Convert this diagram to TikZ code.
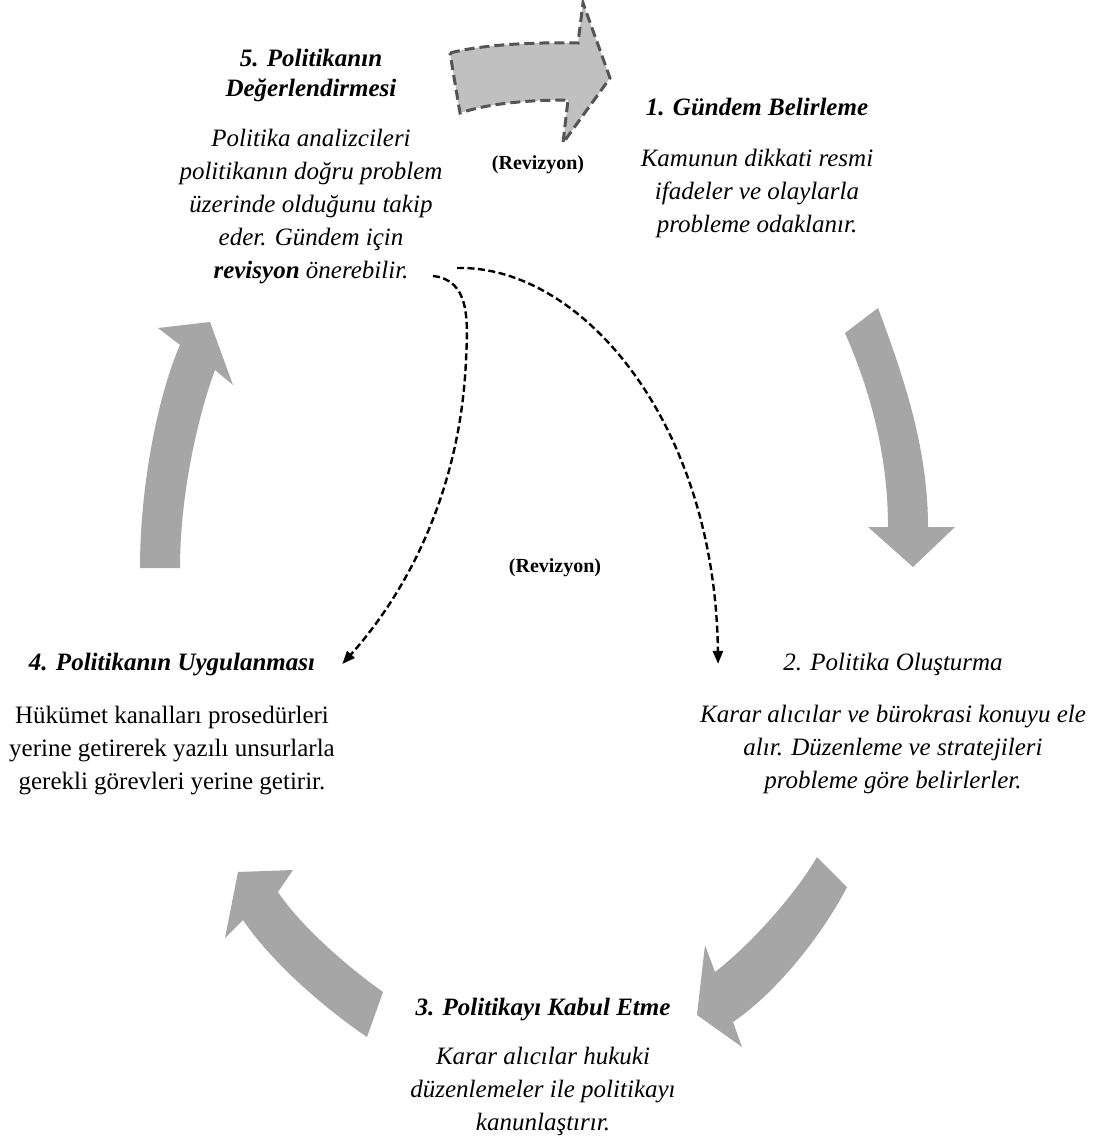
\documentclass[tikz,border=0pt]{standalone}
\usepackage{fontspec}
\setmainfont{Liberation Serif}
\usepackage{xcolor}
\usepackage{tikz}
\usetikzlibrary{arrows.meta,positioning}
\definecolor{cyclegray}{RGB}{166,166,166}
\definecolor{revfill}{RGB}{192,192,192}
\definecolor{revline}{RGB}{85,85,85}
\tikzset{
  stitle/.style ={font=\fontsize{25}{30}\selectfont\bfseries\itshape, align=center, inner sep=0pt},
  stitlem/.style={stitle, font=\fontsize{25}{30}\selectfont\mdseries\itshape},
  sdesc/.style  ={font=\fontsize{25}{33}\selectfont\itshape, align=center, inner sep=0pt},
  sdescu/.style ={sdesc, font=\fontsize{25}{33}\selectfont\upshape},
  srev/.style   ={font=\fontsize{20}{24}\selectfont\bfseries, inner sep=0pt},
  cyc/.style    ={fill=cyclegray, draw=none},
  revarrow/.style={fill=revfill, draw=revline, line width=3pt, dash pattern=on 10pt off 5pt},
  rdash/.style  ={-{Triangle[length=13pt,width=10pt]}, line width=2.4pt, dash pattern=on 7pt off 3.5pt},
}
\begin{document}
\begin{tikzpicture}[x=1pt, y=-1pt]
\useasboundingbox (0,0) rectangle (1104,1143);

\node[stitle, anchor=north] (t5) at (311,49) {5. Politikanın\\Değerlendirmesi};
\node[sdesc, below=27pt of t5] (d5) {Politika analizcileri\\politikanın doğru problem\\üzerinde olduğunu takip\\eder. Gündem için\\\textbf{revisyon} önerebilir.};
\node[stitle, anchor=base] (t1) at (757,115) {1. Gündem Belirleme};
\node[sdesc, below=33pt of t1] (d1) {Kamunun dikkati resmi\\ifadeler ve olaylarla\\probleme odaklanır.};
\node[stitlem, anchor=base] (t2) at (893,670) {2. Politika Oluşturma};
\node[sdesc, below=30pt of t2] (d2) {Karar alıcılar ve bürokrasi konuyu ele\\alır. Düzenleme ve stratejileri\\probleme göre belirlerler.};
\node[stitle, anchor=base] (t3) at (543,1015) {3. Politikayı Kabul Etme};
\node[sdesc, below=26pt of t3] (d3) {Karar alıcılar hukuki\\düzenlemeler ile politikayı\\kanunlaştırır.};
\node[stitle, anchor=base] (t4) at (172,670) {4. Politikanın Uygulanması};
\node[sdescu, below=30pt of t4] (d4) {Hükümet kanalları prosedürleri\\yerine getirerek yazılı unsurlarla\\gerekli görevleri yerine getirir.};
\node[srev] (rv1) at (538,165) {(Revizyon)};
\node[srev] (rv2) at (555,568) {(Revizyon)};

% cycle arrows
\fill[cyc] (845,333) -- (878,308) .. controls (905,380) and (928,450) .. (928,527) -- (955,527) -- (913,567)
  -- (868,527) -- (888,527) .. controls (888,455) and (870,390) .. (845,333) -- cycle;
\fill[cyc] (817,857) .. controls (795,895) and (750,945) .. (715,972) -- (705,945) -- (697,1015) -- (742,1047)
  -- (733,1022) .. controls (780,990) and (825,930) .. (847,887) -- cycle;
\fill[cyc] (383,992) .. controls (345,965) and (300,925) .. (278,892) -- (293,870) -- (238,872) -- (225,938)
  -- (243,920) .. controls (270,960) and (320,1005) .. (367,1037) -- cycle;
\fill[cyc] (140,568) .. controls (140,480) and (160,390) .. (180,345) -- (158,328) -- (210,322) -- (233,385)
  -- (215,370) .. controls (200,410) and (180,490) .. (180,568) -- cycle;
\filldraw[revarrow] (450,53) .. controls (480,45) and (530,42) .. (578,43) -- (583,3) -- (610,78) -- (563,143)
  -- (568,100) .. controls (530,100) and (490,103) .. (460,113) -- cycle;

% revision links
\coordinate (rvA) at (433,276);
\coordinate (rvB) at (457,268);
\draw[rdash] (rvA) .. controls (470,280) and (468,320) .. (466,360)
  .. controls (460,500) and (400,600) .. ([xshift=27pt]t4.east);
\draw[rdash] (rvB) .. controls (580,265) and (715,420) .. ([xshift=-65pt]t2.west);
\end{tikzpicture}
\end{document}
